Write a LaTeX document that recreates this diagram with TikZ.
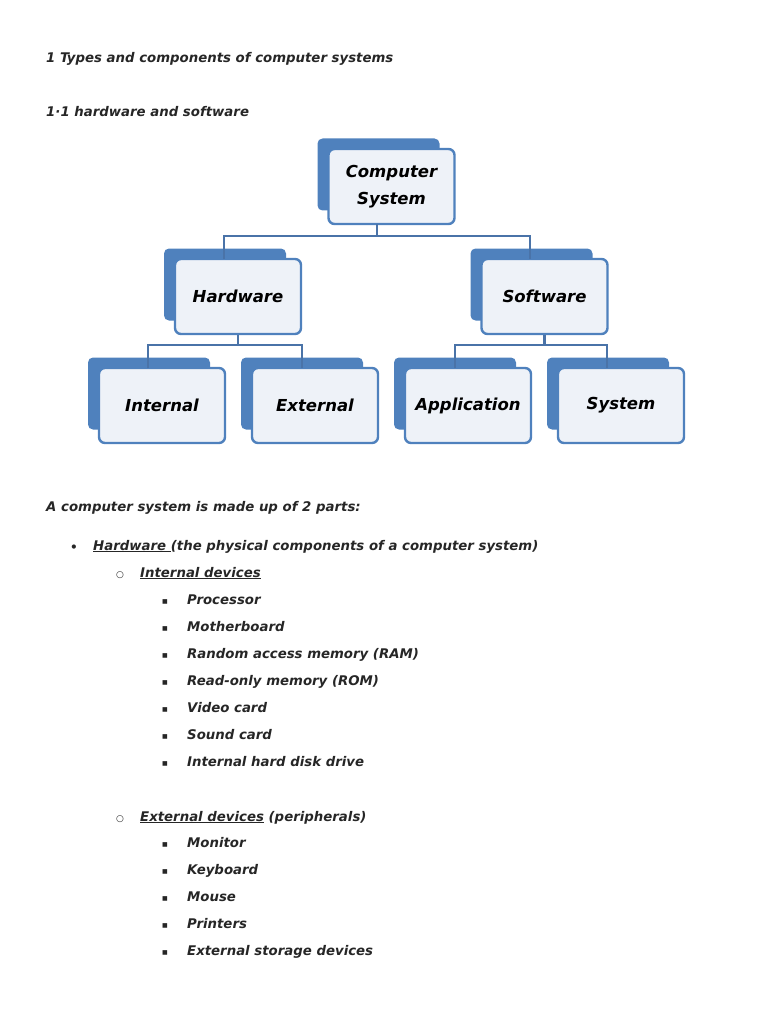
\documentclass[tikz,border=0pt]{standalone}
\usepackage{fontspec}
\setmainfont{DejaVu Sans}
\definecolor{bdark}{HTML}{4F81BD}
\definecolor{bline}{HTML}{4A73A8}
\definecolor{bfill}{HTML}{EEF2F8}
\tikzset{
 back/.style={fill=bdark,draw=none,rounded corners=5pt,minimum width=122pt,minimum height=72pt},
 front/.style={fill=bfill,draw=bdark,line width=2.4pt,rounded corners=6pt,minimum width=126pt,minimum height=75pt,font=\fontsize{16.5}{27}\selectfont\bfseries\itshape,align=center,inner sep=0pt},
 conn/.style={draw=bline,line width=2.2pt},
 txt/.style={anchor=base west,inner sep=0pt,font=\fontsize{13.3}{16}\selectfont\bfseries\itshape,text=black!85},
}
\newcommand\orgb[4]{%
 \node[back] (#1b) at (#2-13,#3-12) {};
 \node[front] (#1) at (#2,#3) {#4};}
\begin{document}
\begin{tikzpicture}[x=1pt,y=-1pt]
\useasboundingbox (0,0) rectangle (768,1024);
\orgb{cs}{391.5}{186.5}{Computer\\System}
\orgb{hw}{238}{296.5}{Hardware}
\orgb{sw}{544.5}{296.5}{Software}
\orgb{in}{162}{405.5}{Internal}
\orgb{ex}{315}{405.5}{External}
\orgb{ap}{468}{405.5}{Application}
\orgb{sy}{621}{405.5}{System}
\coordinate (c1) at (377,236);
\draw[conn] (377,224) -- (c1);
\draw[conn] (224,259) |- (c1) -| (530,259);
\coordinate (c2) at (238,345);
\draw[conn] (hw.south) -- (c2);
\draw[conn] (148,368) |- (c2) -| (302,368);
\coordinate (c3) at (544.5,345);
\draw[conn] (sw.south) -- (c3);
\draw[conn] (455,368) |- (c3) -| (607,368);
\node[txt] (t1) at (46,63) {1 Types and components of computer systems};
\node[txt] (t2) at (46,117) {1·1 hardware and software};
\node[txt] (t3) at (46,511) {A computer system is made up of 2 parts:};
\node[txt] (b1) at (70,551) {\upshape\fontsize{12}{12}\selectfont •};
\node[txt] (h1) at (93,550) {\underline{Hardware }(the physical components of a computer system)};
\node[txt] (o1) at (116,577) {\upshape\mdseries\fontsize{9}{10}\selectfont ○};
\node[txt] (h2) at (140,577) {\underline{Internal devices}};
\foreach \t [count=\i from 0] in {Processor,Motherboard,Random access memory (RAM),Read-only memory (ROM),Video card,Sound card,Internal hard disk drive}{
 \node[txt] (s\i) at (162,603+27*\i) {\upshape\fontsize{6}{8}\selectfont ■};
 \node[txt] (i\i) at (187,604+27*\i) {\t};
}
\node[txt] (o2) at (116,821) {\upshape\mdseries\fontsize{9}{10}\selectfont ○};
\node[txt] (h3) at (140,821) {\underline{External devices} (peripherals)};
\foreach \t [count=\i from 0] in {Monitor,Keyboard,Mouse,Printers,External storage devices}{
 \node[txt] (r\i) at (162,846+27*\i) {\upshape\fontsize{6}{8}\selectfont ■};
 \node[txt] (e\i) at (187,847+27*\i) {\t};
}
\end{tikzpicture}
\end{document}
